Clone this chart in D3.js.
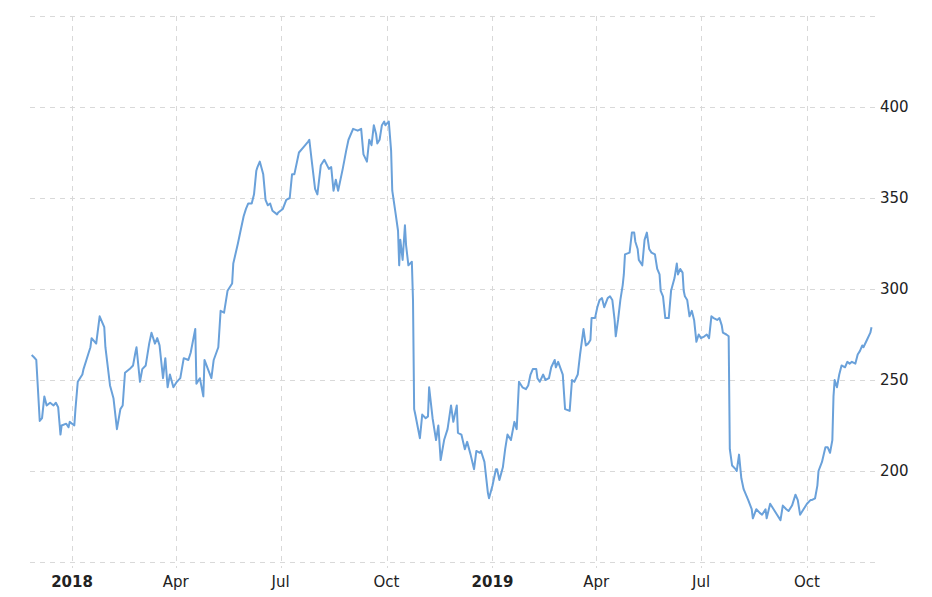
<!DOCTYPE html>
<html>
<head>
<meta charset="utf-8">
<script src="https://cdn.jsdelivr.net/npm/d3@7"></script>
<style>
  body { margin: 0; background: #fff; }
  text { font-family: "DejaVu Sans", Verdana, sans-serif; }
</style>
</head>
<body>
<svg id="chart" width="932" height="597"></svg>
<script>
// days since 2018-01-01
const dayOffsets = [-35,-33,-31,-28,-26,-24,-22,-19,-16,-14,-12,-10,-9,-5,-3,-2,2,3,5,9,10,14,16,17,21,24,28,29,33,36,39,42,44,46,50,53,55,56,59,61,64,67,69,72,74,76,79,81,83,85,88,91,94,97,101,103,107,108,111,114,115,118,121,123,127,129,132,135,139,140,144,146,149,151,153,156,158,160,161,163,166,168,170,172,174,178,179,183,186,189,191,193,197,201,205,206,208,211,213,216,219,223,225,227,229,231,235,238,240,244,248,251,253,256,258,260,262,264,265,267,269,271,272,275,277,278,281,283,284,285,287,289,290,292,295,296,297,298,302,304,307,309,310,313,316,318,320,323,326,329,331,334,335,338,341,343,346,349,351,354,355,358,361,362,365,368,369,371,374,376,378,381,384,386,388,391,394,396,398,400,403,404,406,409,411,414,416,419,420,422,426,428,432,434,436,439,441,444,446,448,450,451,454,456,458,460,462,465,467,469,471,472,474,476,478,479,480,484,486,488,489,491,492,495,497,499,501,503,506,508,510,511,513,515,518,520,523,525,526,528,530,531,532,534,536,538,540,542,544,546,549,551,553,555,557,560,562,564,565,568,570,571,573,576,577,579,581,583,585,587,590,591,594,597,599,602,603,606,609,612,615,617,620,622,625,628,630,632,635,638,641,642,645,647,648,651,654,656,658,660,661,662,664,666,668,671,673,675,677,680,682,684,686,687,690,693,694];
const prices = [263.7,262.5,261,227.5,229,241,236,237.5,236,237.5,235,220,225,226,224,227,225,234,249,253,256,264,268,273,270,285,279,268,247,240,223,234,236,254,256,258,265,268,249,256,258,270,276,270,273,269,251,262,246,253,246,249,251,262,261,265,278,248,251,241,261,256,251,261,268,288,287,299,303,314,325,331,340,344,347,347,352,365,367,370,363,349,346,347,343,341,342,344,349,350,363,363,375,378,381,382,371,355,352,368,371,366,367,354,360,354,366,376,382,388,387,388,374,370,382,379,390,385,380,382,390,392,390,392,376,354,341,332,313,327,316,335,324,313,315,294,234,231,218,231,229,230,246,229,217,225,206,217,223,236,227,236,221,220,212,216,209,201,211,210,211,205,188,185,192,201,201,195,202,212,220,217,227,223,249,246,245,247,253,256,256,251,249,253,250,251,257,261,257,260,253,234,233,250,249,253,264,278,269,270,272,284,284,290,294,295,290,295,296,294,283,274,283,294,302,308,319,320,331,331,326,322,316,313,327,331,322,320,319,311,308,299,296,284,284,299,306,314,308,311,309,299,296,294,285,288,283,271,275,273,274,275,273,285,284,283,284,280,276,275,274,212,203,201,200,209,196,190,187,184,179,174,179,177,176,179,174,182,179,176,173,181,179,178,181,187,184,176,179,182,184,184,185,192,200,205,213,213,210,217,241,250,246,253,258,257,260,259,260,259,264,266,269,268,272,276,279];
const xTicks = ["2018-01-01","2018-04-01","2018-07-01","2018-10-01","2019-01-01","2019-04-01","2019-07-01","2019-10-01"];
const yTicks = [200, 250, 300, 350, 400];
const yGrid = [150, 200, 250, 300, 350, 400, 450];

const svg = d3.select("#chart");
const parse = d3.utcParse("%Y-%m-%d");
const base = parse("2018-01-01");
const n = Math.min(dayOffsets.length, prices.length);
const data = dayOffsets.slice(0, n).map((d, i) => ({ date: d3.utcDay.offset(base, d), value: prices[i] }));

const plotLeft = 30, plotRight = 875, plotTop = 16, plotBottom = 562;
const x = d3.scaleUtc().domain([parse("2018-01-01"), parse("2019-10-01")]).range([72, 807]);
const y = d3.scaleLinear().domain([150, 450]).range([plotBottom, plotTop]);

const grid = svg.append("g").attr("stroke", "#d9d9d9").attr("stroke-dasharray", "5,5").attr("stroke-width", 1);
grid.selectAll("line.h").data(yGrid).join("line").attr("class", "h")
  .attr("x1", plotLeft).attr("x2", plotRight)
  .attr("y1", d => Math.round(y(d)) + 0.5).attr("y2", d => Math.round(y(d)) + 0.5);
grid.selectAll("line.v").data(xTicks).join("line").attr("class", "v")
  .attr("y1", plotTop).attr("y2", plotBottom + 6)
  .attr("x1", d => Math.round(x(parse(d))) + 0.5).attr("x2", d => Math.round(x(parse(d))) + 0.5);

svg.append("g").selectAll("text").data(xTicks).join("text")
  .attr("x", d => x(parse(d)))
  .attr("y", 587)
  .attr("text-anchor", "middle")
  .attr("font-size", 15)
  .attr("font-weight", d => d.endsWith("01-01") ? "bold" : "normal")
  .attr("fill", "#222")
  .text(d => {
    const dt = parse(d);
    return dt.getUTCMonth() === 0 ? d3.utcFormat("%Y")(dt) : d3.utcFormat("%b")(dt);
  });

svg.append("g").selectAll("text").data(yTicks).join("text")
  .attr("x", 880)
  .attr("y", d => y(d) + 5)
  .attr("font-size", 15)
  .attr("fill", "#222")
  .text(d => d);

const line = d3.line().x(d => x(d.date)).y(d => y(d.value));
svg.append("path").datum(data)
  .attr("fill", "none")
  .attr("stroke", "#6aa1da")
  .attr("stroke-width", 2)
  .attr("stroke-linejoin", "round")
  .attr("d", line);
</script>
</body>
</html>
